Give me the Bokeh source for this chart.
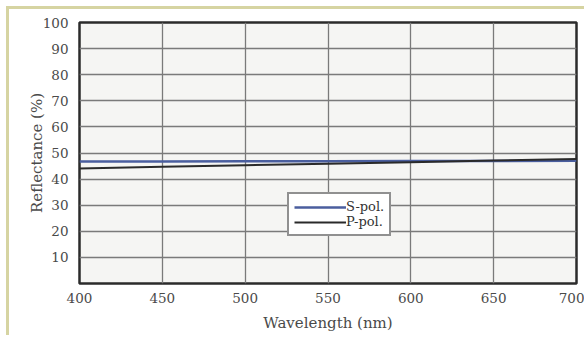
from bokeh.plotting import figure
from bokeh.models import FixedTicker, Legend, LegendItem
from bokeh.embed import file_html
from bokeh.resources import INLINE

wavelength = [400, 450, 500, 550, 600, 650, 700]
s_pol = [46.7, 46.7, 46.8, 46.8, 46.9, 46.9, 47.0]
p_pol = [44.1, 44.7, 45.3, 45.9, 46.5, 47.1, 47.7]
x_ticks = [400, 450, 500, 550, 600, 650, 700]
y_ticks = [10, 20, 30, 40, 50, 60, 70, 80, 90, 100]

FONT = "DejaVu Serif"

p = figure(width=578, height=329, output_backend="svg", toolbar_location=None,
           x_range=(400, 700), y_range=(0, 100),
           min_border_left=70, min_border_right=11, min_border_top=13, min_border_bottom=55,
           background_fill_color="#f5f5f3", border_fill_color="white",
           styles={"margin-top": "6px", "margin-left": "6px",
                   "border-top": "3px solid #d6d4a2", "border-left": "3px solid #d6d4a2"})

p.outline_line_color = "#2b2b2b"
p.outline_line_width = 2.5

p.xaxis.ticker = FixedTicker(ticks=x_ticks)
p.yaxis.ticker = FixedTicker(ticks=y_ticks)
p.xgrid.ticker = FixedTicker(ticks=x_ticks)
p.ygrid.ticker = FixedTicker(ticks=y_ticks)
for g in (p.xgrid, p.ygrid):
    g.grid_line_color = "#7a7a7a"
    g.grid_line_width = 1.3
    g.grid_line_alpha = 1.0

for ax in (p.xaxis, p.yaxis):
    ax.axis_line_color = None
    ax.major_tick_line_color = None
    ax.minor_tick_line_color = None
    ax.major_tick_out = 0
    ax.major_tick_in = 0
    ax.minor_tick_out = 0
    ax.minor_tick_in = 0
    ax.major_label_text_font = FONT
    ax.major_label_text_font_size = "13.5px"
    ax.major_label_text_color = "#4a4a4a"
    ax.axis_label_text_font = FONT
    ax.axis_label_text_font_size = "15px"
    ax.axis_label_text_font_style = "normal"
    ax.axis_label_text_color = "#4a4a4a"

p.xaxis.axis_label = "Wavelength (nm)"
p.yaxis.axis_label = "Reflectance (%)"
p.xaxis.major_label_standoff = 9
p.yaxis.major_label_standoff = 11
p.xaxis.axis_label_standoff = 8
p.yaxis.axis_label_standoff = -6

r_s = p.line(wavelength, s_pol, line_color="#4a5e9e", line_width=2.5)
r_p = p.line(wavelength, p_pol, line_color="#2a2a2a", line_width=2)

legend = Legend(items=[LegendItem(label="S-pol.", renderers=[r_s]),
                       LegendItem(label="P-pol.", renderers=[r_p])],
                location=(208, 47), orientation="vertical",
                label_text_font=FONT, label_text_font_size="13px",
                label_text_color="#333333",
                glyph_width=52, glyph_height=14, label_height=14,
                label_standoff=0, spacing=0, padding=5, margin=0,
                border_line_color="#222222", border_line_width=2,
                background_fill_color="white", background_fill_alpha=1)
p.add_layout(legend, "center")

open("out.html", "w").write(file_html(p, INLINE))
